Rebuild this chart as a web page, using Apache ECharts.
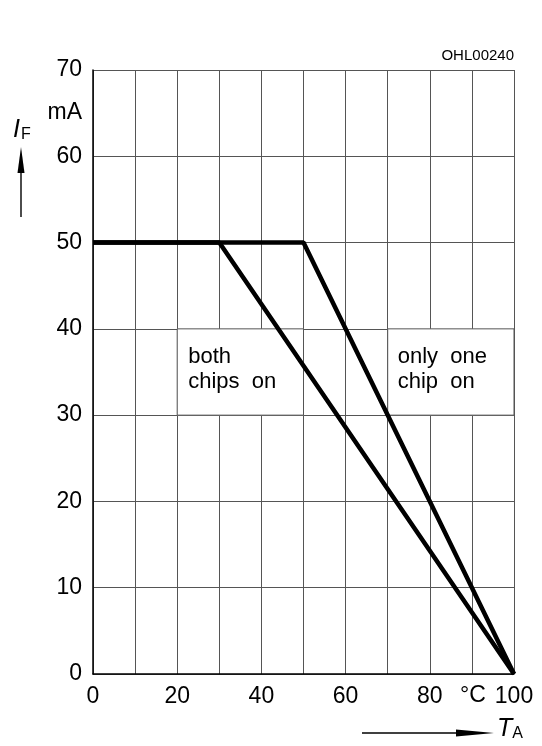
<!DOCTYPE html>
<html><head><meta charset="utf-8">
<script src="https://cdn.jsdelivr.net/npm/echarts@6/dist/echarts.min.js"></script>
<style>html,body{margin:0;padding:0;background:#fff}#c{width:542px;height:746px}</style>
</head><body><div id="c"></div>
<script>
// ---- data ----
const tempBoth = [0, 30, 100];
const currentBoth = [50, 50, 0];
const tempOne = [0, 50, 100];
const currentOne = [50, 50, 0];
const xLabelValues = [0, 20, 40, 60, 80, 100];
const yLabelValues = [0, 10, 20, 30, 40, 50, 60, 70];
const boxBoth = [[20, 40], [50, 30]];
const boxOne = [[70, 40], [100, 30]];
const textBoth = 'both\nchips  on';
const textOne = 'only  one\nchip  on';

const FONT = 'Liberation Sans';
const chart = echarts.init(document.getElementById('c'), null, {renderer: 'canvas'});

function pairs(xs, ys) { return xs.map((x, i) => [x, ys[i]]); }

chart.setOption({
  animation: false,
  backgroundColor: '#fff',
  grid: {left: 93, right: 28, top: 70, bottom: 72, containLabel: false},
  xAxis: {
    type: 'value', min: 0, max: 100, interval: 10,
    axisLine: {show: true, lineStyle: {color: '#000', width: 1.5}},
    axisTick: {show: false},
    splitLine: {show: true, lineStyle: {color: '#555', width: 1}},
    axisLabel: {
      fontFamily: FONT, fontSize: 23, color: '#000', margin: 11,
      showMinLabel: true, showMaxLabel: true,
      formatter: v => (xLabelValues.indexOf(v) >= 0 ? String(v) : '')
    }
  },
  yAxis: {
    type: 'value', min: 0, max: 70, interval: 10,
    axisLine: {show: true, lineStyle: {color: '#000', width: 1.5}},
    axisTick: {show: false},
    splitLine: {show: true, lineStyle: {color: '#555', width: 1}},
    axisLabel: {
      fontFamily: FONT, fontSize: 23, color: '#000', margin: 11,
      formatter: v => (yLabelValues.indexOf(v) >= 0 ? String(v) : '')
    }
  },
  series: [
    {
      type: 'line', data: [], z: 2, silent: true,
      markArea: {
        silent: true,
        itemStyle: {color: '#fff', borderColor: '#555', borderWidth: 1},
        label: {show: false},
        data: [
          [{coord: boxBoth[0]}, {coord: boxBoth[1]}],
          [{coord: boxOne[0]}, {coord: boxOne[1]}]
        ]
      }
    },
    {
      type: 'line', name: 'both chips on', data: pairs(tempBoth, currentBoth), z: 5,
      symbol: 'none', lineStyle: {color: '#000', width: 4.5}
    },
    {
      type: 'line', name: 'only one chip on', data: pairs(tempOne, currentOne), z: 5,
      symbol: 'none', lineStyle: {color: '#000', width: 4.5}
    }
  ]
});

const pBoth = chart.convertToPixel({gridIndex: 0}, [boxBoth[0][0], boxBoth[0][1]]);
const pOne = chart.convertToPixel({gridIndex: 0}, [boxOne[0][0], boxOne[0][1]]);
const p80 = chart.convertToPixel({gridIndex: 0}, [80, 0]);
const p100 = chart.convertToPixel({gridIndex: 0}, [100, 70]);
const p70 = chart.convertToPixel({gridIndex: 0}, [0, 70]);

chart.setOption({
  graphic: [
    {type: 'text', left: pBoth[0] + 11, top: pBoth[1] + 16, z: 10,
     style: {text: textBoth, font: '22px "' + FONT + '"', fill: '#000', lineHeight: 25}},
    {type: 'text', left: pOne[0] + 10, top: pOne[1] + 16, z: 10,
     style: {text: textOne, font: '22px "' + FONT + '"', fill: '#000', lineHeight: 25}},
    {type: 'text', x: p100[0], y: 56, z: 10,
     style: {text: 'OHL00240', font: '15px "' + FONT + '"', fill: '#000', align: 'right', verticalAlign: 'middle'}},
    {type: 'text', x: p70[0] - 11, y: 113, z: 10,
     style: {text: 'mA', font: '23px "' + FONT + '"', fill: '#000', align: 'right', verticalAlign: 'middle'}},
    {type: 'text', x: (p80[0] + p100[0]) / 2 + 1, y: 696, z: 10,
     style: {text: '°C', font: '23px "' + FONT + '"', fill: '#000', align: 'center', verticalAlign: 'middle'}},
    {type: 'text', x: 13, y: 130, z: 10,
     style: {text: '{i|I}{s|F}', verticalAlign: 'middle',
       rich: {i: {fontFamily: FONT, fontStyle: 'italic', fontSize: 25, color: '#000'},
              s: {fontFamily: FONT, fontSize: 16, color: '#000', padding: [10, 0, 0, 1]}}}},
    {type: 'line', shape: {x1: 21, y1: 168, x2: 21, y2: 217}, style: {stroke: '#000', lineWidth: 1.4}},
    {type: 'polygon', shape: {points: [[21, 147], [17.5, 173], [24.5, 173]]}, style: {fill: '#000'}},
    {type: 'line', shape: {x1: 362, y1: 733, x2: 460, y2: 733}, style: {stroke: '#000', lineWidth: 1.4}},
    {type: 'polygon', shape: {points: [[494, 733], [456, 729.5], [456, 736.5]]}, style: {fill: '#000'}},
    {type: 'text', x: 497, y: 729, z: 10,
     style: {text: '{i|T}{s|A}', verticalAlign: 'middle',
       rich: {i: {fontFamily: FONT, fontStyle: 'italic', fontSize: 25, color: '#000'},
              s: {fontFamily: FONT, fontSize: 16, color: '#000', padding: [10, 0, 0, 0]}}}}
  ]
});
</script></body></html>
